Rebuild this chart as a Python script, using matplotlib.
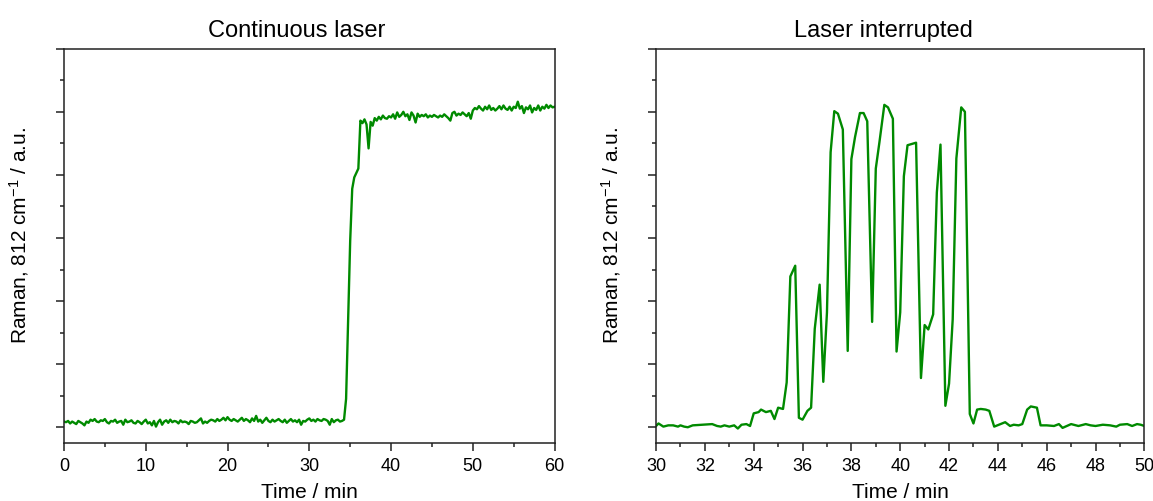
import numpy as np
import matplotlib.pyplot as plt
from matplotlib.ticker import MultipleLocator

plt.rcParams["font.family"] = ["Liberation Sans", "DejaVu Sans"]
plt.rcParams["mathtext.default"] = "regular"

# continuous laser: one spectrum every 15 s, 0..60 min
cont_time = np.linspace(0, 60, 241)
cont_raman = [
    0.09, 0.08, 0.10, 0.06, 0.09, 0.07, 0.05, 0.10, 0.08, 0.06,
    0.03, 0.09, 0.07, 0.12, 0.10, 0.13, 0.09, 0.08, 0.11, 0.10,
    0.13, 0.08, 0.06, 0.10, 0.09, 0.12, 0.07, 0.09, 0.10, 0.04,
    0.12, 0.08, 0.09, 0.11, 0.07, 0.06, 0.10, 0.08, 0.05, 0.09,
    0.12, 0.06, 0.08, 0.03, 0.10, 0.01, 0.08, 0.12, 0.04, 0.09,
    0.11, 0.07, 0.12, 0.08, 0.10, 0.09, 0.06, 0.11, 0.08, 0.09,
    0.08, 0.05, 0.10, 0.09, 0.07, 0.08, 0.11, 0.14, 0.06, 0.09,
    0.07, 0.10, 0.12, 0.11, 0.09, 0.13, 0.10, 0.12, 0.15, 0.11,
    0.16, 0.12, 0.10, 0.13, 0.11, 0.09, 0.12, 0.15, 0.10, 0.13,
    0.11, 0.08, 0.14, 0.10, 0.18, 0.09, 0.12, 0.07, 0.11, 0.15,
    0.10, 0.08, 0.12, 0.09, 0.11, 0.13, 0.10, 0.08, 0.12, 0.07,
    0.10, 0.13, 0.09, 0.11, 0.08, 0.12, 0.04, 0.10, 0.09, 0.12,
    0.14, 0.10, 0.12, 0.09, 0.13, 0.11, 0.10, 0.13, 0.12, 0.10,
    0.04, 0.13, 0.08, 0.11, 0.12, 0.09, 0.10, 0.12, 0.45, 1.70,
    2.95, 3.78, 3.96, 4.03, 4.10, 4.86, 4.82, 4.88, 4.80, 4.42,
    4.84, 4.78, 4.90, 4.86, 4.92, 4.88, 4.94, 4.90, 4.89, 4.93,
    4.91, 4.96, 4.89, 4.99, 4.92, 4.95, 5.00, 4.93, 4.96, 4.87,
    4.99, 4.94, 4.83, 4.97, 4.92, 4.95, 4.93, 4.96, 4.91, 4.94,
    4.92, 4.95, 4.93, 4.91, 4.94, 4.92, 4.96, 4.93, 4.90, 4.86,
    4.98, 5.00, 4.94, 4.97, 4.95, 4.99, 4.96, 4.93, 4.98, 4.89,
    5.02, 5.06, 5.04, 5.09, 5.05, 5.02, 5.08, 5.04, 5.10, 5.03,
    5.06, 5.02, 5.05, 5.09, 5.04, 5.10, 5.05, 5.03, 5.08, 5.02,
    5.08, 5.06, 5.16, 5.05, 5.09, 4.98, 5.07, 5.04, 5.10, 4.99,
    5.06, 5.03, 5.10, 5.02, 5.08, 5.05, 5.11, 5.06, 5.10, 5.07,
    5.08,
]

# interrupted laser, 30..50 min
int_time = [
    30.0, 30.1, 30.3, 30.5, 30.7, 30.9, 31.0, 31.15, 31.3, 31.5,
    32.3, 32.5, 32.65, 32.8, 33.0, 33.2, 33.35, 33.5, 33.7, 33.85,
    34.0, 34.2, 34.3, 34.5, 34.7, 34.85, 35.0, 35.2, 35.35, 35.5,
    35.7, 35.85, 36.0, 36.2, 36.35, 36.5, 36.7, 36.85, 37.0, 37.15,
    37.3, 37.45, 37.65, 37.85, 38.0, 38.15, 38.35, 38.5, 38.65, 38.85,
    39.0, 39.15, 39.35, 39.5, 39.7, 39.85, 40.0, 40.15, 40.3, 40.65,
    40.85, 41.0, 41.15, 41.35, 41.5, 41.65, 41.85, 42.0, 42.15, 42.3,
    42.5, 42.65, 42.85, 43.0, 43.15, 43.3, 43.5, 43.65, 43.85, 44.3,
    44.5, 44.65, 44.85, 45.0, 45.2, 45.35, 45.6, 45.75, 46.0, 46.3,
    46.5, 46.65, 47.0, 47.3, 47.6, 47.8, 48.0, 48.3, 48.6, 48.85,
    49.0, 49.3, 49.5, 49.7, 49.85, 50.0,
]
int_raman = [
    0.02, 0.06, 0.01, 0.03, 0.03, 0.01, 0.03, 0.01, 0.00, 0.03,
    0.05, 0.02, 0.01, 0.03, 0.01, 0.03, -0.02, 0.04, 0.05, 0.02,
    0.22, 0.24, 0.28, 0.24, 0.26, 0.13, 0.31, 0.29, 0.71, 2.39,
    2.56, 0.15, 0.12, 0.26, 0.31, 1.56, 2.26, 0.72, 1.82, 4.36,
    5.01, 4.97, 4.72, 1.21, 4.25, 4.60, 4.98, 4.98, 4.85, 1.67,
    4.10, 4.52, 5.11, 5.07, 4.89, 1.20, 1.82, 3.98, 4.47, 4.51,
    0.78, 1.62, 1.55, 1.79, 3.72, 4.48, 0.34, 0.69, 1.71, 4.26,
    5.07, 5.00, 0.21, 0.06, 0.28, 0.29, 0.28, 0.26, 0.01, 0.08,
    0.02, 0.04, 0.03, 0.05, 0.28, 0.33, 0.31, 0.03, 0.03, 0.02,
    0.05, -0.01, 0.05, 0.02, 0.05, 0.03, 0.02, 0.04, 0.03, 0.01,
    0.04, 0.05, 0.02, 0.05, 0.04, 0.02,
]

green = "#008a00"
ylabel = "Raman, 812 cm$^{-1}$ / a.u."

fig = plt.figure(figsize=(11.53, 5.02), dpi=100)
ax1 = fig.add_axes([0.0555, 0.1155, 0.4255, 0.7855])
ax2 = fig.add_axes([0.569, 0.1155, 0.4235, 0.7855])

panels = [
    (ax1, cont_time, cont_raman, "Continuous laser", (0, 60), 10, 5, 0.475),
    (ax2, int_time, int_raman, "Laser interrupted", (30, 50), 2, 1, 0.465),
]

for ax, t, r, title, xlim, xmaj, xmin, tx in panels:
    ax.plot(t, r, color=green, linewidth=1.7)
    ax.set_xlim(*xlim)
    ax.set_ylim(-0.25, 6)
    ax.xaxis.set_major_locator(MultipleLocator(xmaj))
    ax.xaxis.set_minor_locator(MultipleLocator(xmin))
    ax.yaxis.set_major_locator(MultipleLocator(1))
    ax.yaxis.set_minor_locator(MultipleLocator(0.5))
    ax.set_yticklabels([])
    ax.tick_params(which="major", direction="out", length=6, width=1.1,
                   labelsize=13, colors="#222222")
    ax.tick_params(which="minor", direction="out", length=3, width=1.1,
                   colors="#222222")
    ax.tick_params(axis="x", labelcolor="black", pad=4)
    for s in ax.spines.values():
        s.set_linewidth(1.1)
        s.set_color("#222222")
    ax.set_title(title, fontsize=17, pad=9, x=tx)
    ax.set_xlabel("Time / min", fontsize=15, labelpad=6)
    ax.set_ylabel(ylabel, fontsize=15)
    ax.yaxis.set_label_coords(-0.067, 0.53)

fig.savefig("out.png", dpi=100)
